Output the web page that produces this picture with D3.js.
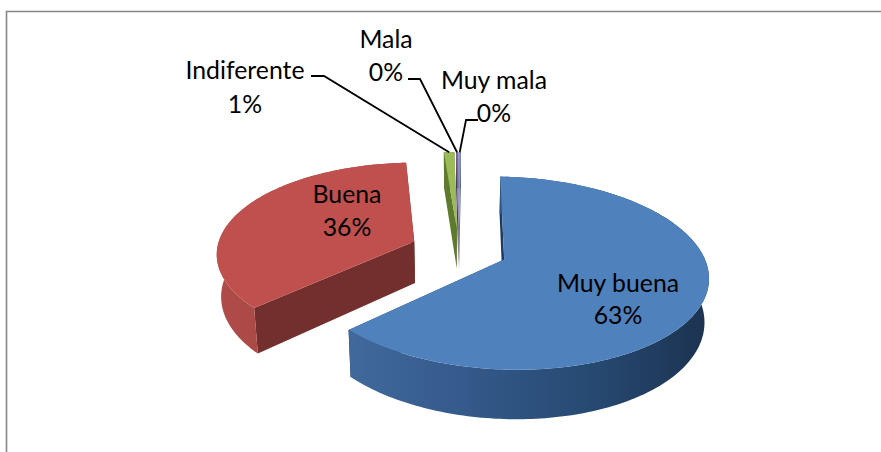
<!DOCTYPE html>
<html><head><meta charset="utf-8">
<script src="https://cdn.jsdelivr.net/npm/d3@7"></script>
<style>html,body{margin:0;padding:0;background:#fff}svg{display:block}text{font-family:Lato,"Open Sans",sans-serif;fill:#000;font-size:24.8px;text-anchor:middle}</style>
</head><body><svg width="881" height="452"></svg>
<script>
const categories=["Muy buena","Buena","Indiferente","Mala","Muy mala"];
const values=[62.7,35.9,1.0,0.2,0.2];
const topColors=["#4F81BD","#C0504D","#9BBB59","#8064A2","#7F93C9"];
const cutColors=["#1F3A60","#732F2D","#5E7A2C","#4D3C62","#4A5A80"];
const wallStops=[["#41699C","#34598A","#274A72","#1C3250"],["#B04C49","#963F3C"],["#5E7A2C","#5E7A2C"],["#4D3C62","#4D3C62"],["#4A5A80","#4A5A80"]];

const W=881,H=452,cx=459,cy=250,R=198,Ry=92,persp=0.138,shear=5,depth=42,explode=0.245;
const svg=d3.select("svg");
svg.append("path").attr("d",`M881,11.5H6.5V452`).attr("fill","none").attr("stroke","#868686").attr("stroke-width",1.6);
const defs=svg.append("defs");

const slices=d3.pie().sort(null).startAngle(2*Math.PI/180).endAngle(362*Math.PI/180).value(d=>d)(values);
function project(x,y,z){
  const s=1/(1-persp*y);
  const X=cx+(x*R+shear*y)*s, Y=cy+y*Ry*s;
  const zz=z*depth*s;
  return [X-(X-cx)*0.018*z, Y+zz];
}
const line=d3.line();
const pieG=svg.append("g");
const order=[2,3,4,1,0];
const geo=[];
slices.forEach((d,i)=>{
  const mid=(d.startAngle+d.endAngle)/2;
  const ox=explode*Math.sin(mid), oy=-explode*Math.cos(mid);
  const pt=(a,r)=>[ox+r*Math.sin(a),oy-r*Math.cos(a)];
  geo[i]={d,ox,oy,pt,mid};
});
order.forEach(i=>{
  const {d,ox,oy,pt}=geo[i];
  const n=Math.max(4,Math.ceil((d.endAngle-d.startAngle)/0.02));
  const angs=d3.range(n+1).map(k=>d.startAngle+(d.endAngle-d.startAngle)*k/n);
  const top=angs.map(a=>project(...pt(a,1),0));
  const bot=angs.map(a=>project(...pt(a,1),1));
  const apexT=project(ox,oy,0), apexB=project(ox,oy,1);
  const g=pieG.append("g");
  const xs=top.map(p=>p[0]);
  const gradId="wall"+i;
  const grad=defs.append("linearGradient").attr("id",gradId).attr("gradientUnits","userSpaceOnUse")
    .attr("x1",d3.min(xs)).attr("x2",d3.max(xs)).attr("y1",0).attr("y2",0);
  wallStops[i].forEach((c,k,a)=>grad.append("stop").attr("offset",k/(a.length-1)).attr("stop-color",c));
  g.append("path").attr("d",line([apexT,top[0],bot[0],apexB])+"Z").attr("fill",cutColors[i]);
  g.append("path").attr("d",line([apexT,top[n],bot[n],apexB])+"Z").attr("fill",cutColors[i]);
  g.append("path").attr("d",line(top.concat(bot.slice().reverse()))+"Z").attr("fill",`url(#${gradId})`);
  g.append("path").attr("d",line([apexT].concat(top))+"Z").attr("fill",topColors[i]);
});

const fmt=v=>d3.format(".0f")(v)+"%";
const labelPos=[[618,284],[347,195],[245,71],[386,40],[494,81]];
const pctPos=[[618,316],[347,228],[245,105],[386,73],[494,114]];
const elbows=[null,null,[[311,76],[324,76]],[[408,79],[420,79]],[[478,120],[466,120]]];
categories.forEach((c,i)=>{
  const {pt,mid}=geo[i];
  if(elbows[i]){
    const end=project(...pt(mid,1),0);
    svg.append("path").attr("d",line(elbows[i].concat([end]))).attr("fill","none").attr("stroke","#000").attr("stroke-width",1.8);
  }
  svg.append("text").attr("x",labelPos[i][0]).attr("y",labelPos[i][1]+8).text(c);
  svg.append("text").attr("x",pctPos[i][0]).attr("y",pctPos[i][1]+8).text(fmt(values[i]));
});
</script></body></html>
